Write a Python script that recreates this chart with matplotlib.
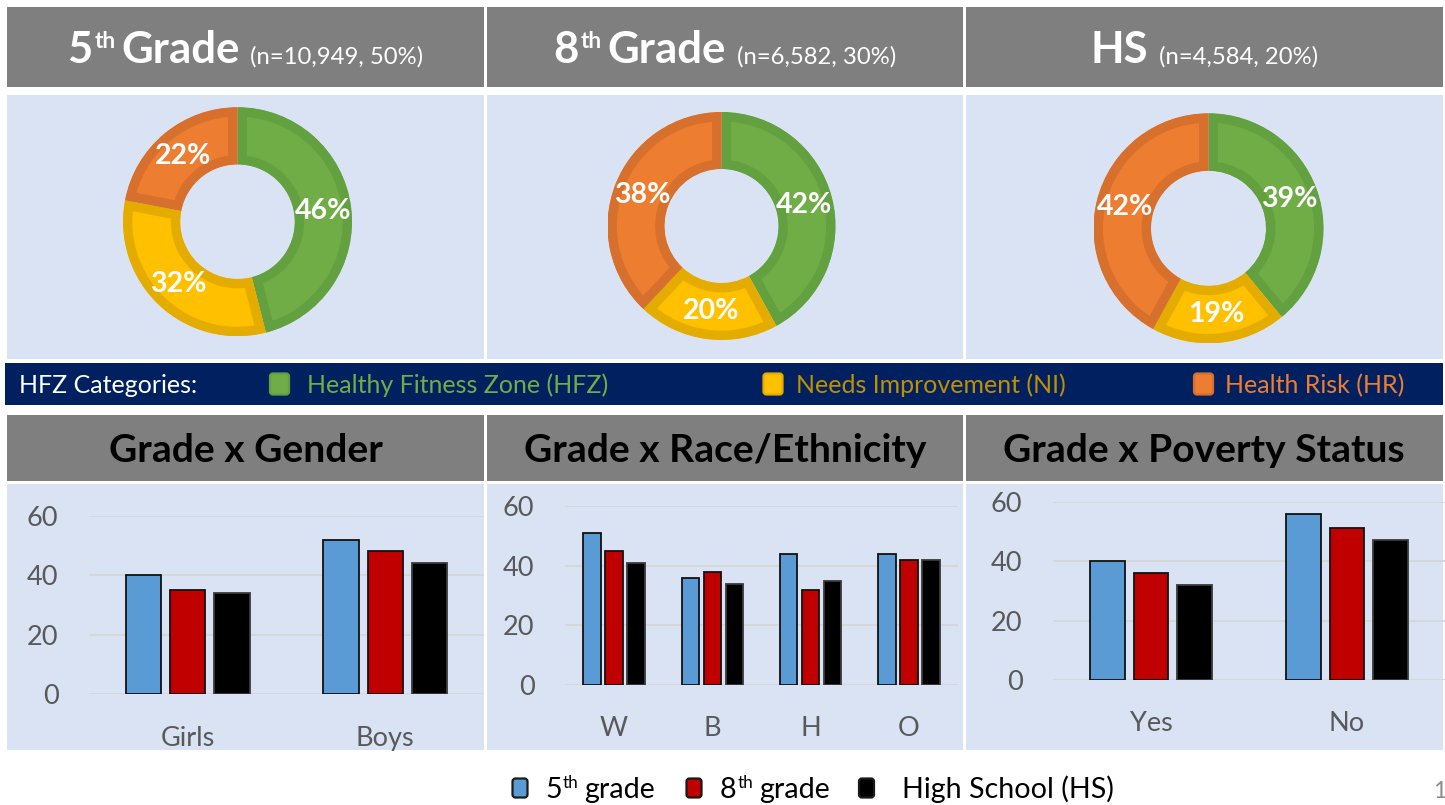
import numpy as np
import matplotlib
matplotlib.use("Agg")
import matplotlib.pyplot as plt
from matplotlib.patches import Rectangle, FancyBboxPatch

# ---------------- data ----------------
grade_num = ["5", "8", "HS"]
grade_sup = ["th", "th", ""]
grade_word = ["Grade", "Grade", ""]
grade_n = ["(n=10,949, 50%)", "(n=6,582, 30%)", "(n=4,584, 20%)"]

hfz_title = "HFZ Categories:"
hfz_labels = ["Healthy Fitness Zone (HFZ)", "Needs Improvement (NI)", "Health Risk (HR)"]
hfz_5th = [46, 32, 22]
hfz_8th = [42, 20, 38]
hfz_hs = [39, 19, 42]

panel_titles = ["Grade x Gender", "Grade x Race/Ethnicity", "Grade x Poverty Status"]
gender_cats = ["Girls", "Boys"]
gender_5th = [40, 52]
gender_8th = [35, 48]
gender_hs = [34, 44]
race_cats = ["W", "B", "H", "O"]
race_5th = [51, 36, 44, 44]
race_8th = [45, 38, 32, 42]
race_hs = [41, 34, 35, 42]
poverty_cats = ["Yes", "No"]
poverty_5th = [40, 56]
poverty_8th = [36, 51]
poverty_hs = [32, 47]
y_ticks = [0, 20, 40, 60]

series_num = ["5", "8", ""]
series_sup = ["th", "th", ""]
series_word = ["grade", "grade", "High School (HS)"]
page_number = "1"

# ---------------- style ----------------
GRAY = "#7f7f7f"
LIGHT = "#dae3f3"
NAVY = "#002060"
hfz_fill = ["#70ad47", "#ffc000", "#ed7d31"]
hfz_edge = ["#63a03f", "#e5ac00", "#d6702c"]
hfz_text = ["#70ad47", "#bf9000", "#ed7d31"]
bar_fill = ["#5b9bd5", "#c00000", "#000000"]
bar_edge = ["#111111", "#111111", "#3a3a3a"]

W, H, DPI = 1445, 805, 100
plt.rcParams['font.family'] = ['Lato', 'DejaVu Sans']
fig = plt.figure(figsize=(W / DPI, H / DPI), dpi=DPI, facecolor='white')
bg = fig.add_axes([0, 0, 1, 1])
bg.set_xlim(0, W)
bg.set_ylim(H, 0)
bg.axis('off')
REN = fig.canvas.get_renderer()
PX = DPI / 72.0


def tw(s, size, weight='normal'):
    t = bg.text(0, 0, s, fontsize=size, fontweight=weight)
    w = t.get_window_extent(renderer=REN).width
    t.remove()
    return w


def fit(s, width, weight='normal'):
    return 20.0 * width / tw(s, 20.0, weight)


def rich(parts, baseline, cx=None, x0=None, color='white'):
    parts = [p for p in parts if p[0]]
    widths = [tw(p[0], p[1], p[2]) for p in parts]
    total = sum(widths) + sum(p[4] for p in parts[1:])
    x = x0 if x0 is not None else cx - total / 2
    for k, (p, w) in enumerate(zip(parts, widths)):
        if k > 0:
            x += p[4]
        bg.text(x, baseline - p[3], p[0], fontsize=p[1], fontweight=p[2],
                color=color, ha='left', va='baseline')
        x += w


def px_axes(x0, y0, x1, y1):
    return fig.add_axes([x0 / W, 1 - y1 / H, (x1 - x0) / W, (y1 - y0) / H])


def rect(x0, y0, x1, y1, color):
    bg.add_patch(Rectangle((x0, y0), x1 - x0, y1 - y0, facecolor=color,
                           edgecolor='none'))


def square(xc, yc, w, h, fill, edge):
    bg.add_patch(FancyBboxPatch((xc - w / 2, yc - h / 2), w, h,
                                boxstyle="round,pad=0,rounding_size=3",
                                facecolor=fill, edgecolor=edge, linewidth=1.6))


cols = [(7, 484), (486.5, 963), (965.5, 1443)]
centers = [(a + b) / 2 for a, b in cols]

# ---------------- backgrounds ----------------
for a, b in cols:
    rect(a, 7.3, b, 86.7, GRAY)
    rect(a, 95, b, 359.5, LIGHT)
    rect(a, 415, b, 481, GRAY)
    rect(a, 483.5, b, 750, LIGHT)
rect(5, 363, 1443, 405, NAVY)

# ---------------- row 1 headers ----------------
big = fit("Grade", 118.5, 'bold')
small = fit(grade_n[0], 173)
sup = big * 0.52
for i in range(3):
    parts = [(grade_num[i], big, 'bold', 0, 0),
             (grade_sup[i], sup, 'bold', 15.5, 2),
             (grade_word[i], big, 'bold', 0, 5),
             (grade_n[i], small, 'normal', 0, 11)]
    rich(parts, 63.3, cx=centers[i], color='white')

# ---------------- donuts ----------------
donut_geom = [(237.5, 221.7, 114.5), (721.5, 226.0, 114.0), (1208.5, 228.3, 115.0)]
for (cx, cy, r), vals in zip(donut_geom, [hfz_5th, hfz_8th, hfz_hs]):
    ax = px_axes(cx - r, cy - r, cx + r, cy + r)
    wedges, _, autotexts = ax.pie(
        vals, colors=hfz_fill, startangle=90, counterclock=False, radius=1,
        wedgeprops=dict(width=0.5, linewidth=0),
        autopct=lambda p: f"{p:.0f}%", pctdistance=0.75,
        textprops=dict(color='white', fontsize=20.5, fontweight='bold'))
    for w, ec in zip(wedges, hfz_edge):
        w.set_edgecolor(ec)
        w.set_linewidth(13.5)
        w.set_clip_on(True)
        w.set_clip_path(w)
    ax.set_xlim(-1, 1)
    ax.set_ylim(-1, 1)
    ax.set_aspect('equal')
    ax.axis('off')

# ---------------- HFZ strip ----------------
ssize = fit(hfz_labels[0], 301)
scap = 0.72 * ssize * PX
sbase = 384 + scap / 2
bg.text(19, sbase, hfz_title, fontsize=ssize, color='white', ha='left', va='baseline')
for lab, sqx, tx, f, e, c in zip(hfz_labels, [279.5, 773, 1203.5], [307, 796, 1225],
                                 hfz_fill, hfz_edge, hfz_text):
    square(sqx, 384, 19, 21, f, e)
    bg.text(tx, sbase, lab, fontsize=ssize, color=c, ha='left', va='baseline')

# ---------------- row 2 headers ----------------
hsize = fit(panel_titles[1], 402, 'bold')
hcap = 0.72 * hsize * PX
for t, c in zip(panel_titles, centers):
    bg.text(c, 448 + hcap / 2, t, fontsize=hsize, fontweight='bold', color='black',
            ha='center', va='baseline')

# ---------------- bar charts ----------------
bar_boxes = [(89, 515.7, 484, 694.3), (565, 506.3, 958, 684.7), (1053, 501.7, 1445, 680)]
bar_sets = [(gender_cats, [gender_5th, gender_8th, gender_hs]),
            (race_cats, [race_5th, race_8th, race_hs]),
            (poverty_cats, [poverty_5th, poverty_8th, poverty_hs])]
for box, (cats, series) in zip(bar_boxes, bar_sets):
    ax = px_axes(*box)
    x = np.arange(len(cats))
    for k, vals in enumerate(series):
        ax.bar(x + (k - 1) * 0.224, vals, width=0.178, color=bar_fill[k],
               edgecolor=bar_edge[k], linewidth=1.3, zorder=3)
    ax.set_xlim(-0.5, len(cats) - 0.5)
    ax.set_ylim(0, 60)
    ax.set_yticks(y_ticks)
    ax.set_xticks(x)
    ax.set_xticklabels(cats)
    ax.grid(axis='y', color='#d6d6d6', linewidth=1.3, zorder=0)
    ax.set_axisbelow(True)
    ax.patch.set_alpha(0)
    for s in ax.spines.values():
        s.set_visible(False)
    ax.tick_params(axis='both', length=0, labelsize=19.5, labelcolor='#595959')
    ax.tick_params(axis='y', pad=22)
    ax.tick_params(axis='x', pad=22.5)

# ---------------- bottom legend ----------------
lsize = fit(series_word[2], 211)
lsup = lsize * 0.6
lcap = 0.72 * lsize * PX
lbase = 788 + lcap / 2
for k, (sqx, tx) in enumerate(zip([520, 694, 866.5], [545, 720, 902])):
    square(sqx, 788, 15, 19, bar_fill[k], '#1a1a1a')
    parts = [(series_num[k], lsize, 'normal', 0, 0),
             (series_sup[k], lsup, 'normal', lcap * 0.5, 1),
             (series_word[k], lsize, 'normal', 0, 6)]
    rich(parts, lbase, x0=tx, color='black')

bg.text(1433, lbase, page_number, fontsize=lsize * 0.8, color='#8c8c8c',
        ha='left', va='baseline')

fig.savefig("out.png", dpi=DPI, facecolor='white')
